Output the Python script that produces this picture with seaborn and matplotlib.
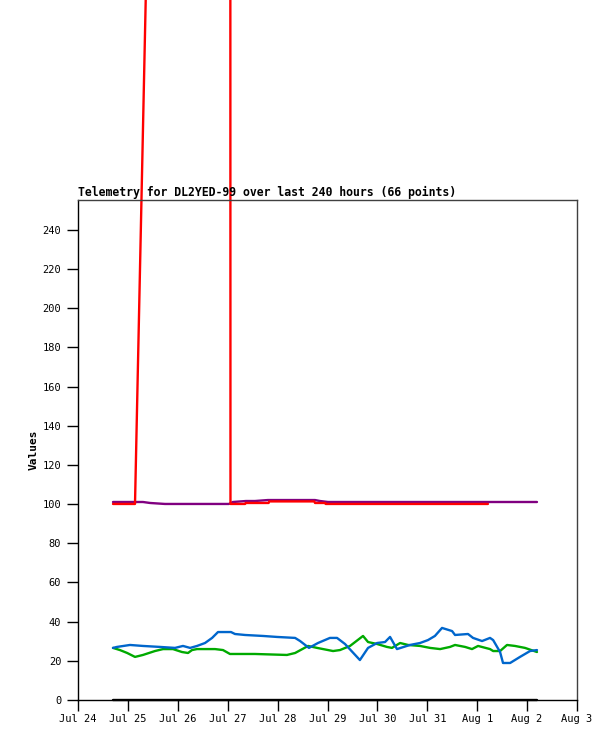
import pandas as pd
import numpy as np
import matplotlib.pyplot as plt
import matplotlib.dates as mdates
import seaborn as sns

# Telemetry values
black_times = ["2024-07-24 16:50", "2024-08-02 04:45"]
black_vals = [0, 0]

red_times = ["2024-07-24 16:50", "2024-07-25 03:25", "2024-07-27 00:50", "2024-07-27 01:20",
             "2024-07-27 08:20", "2024-07-27 08:40", "2024-07-27 19:40", "2024-07-27 20:00",
             "2024-07-28 17:40", "2024-07-28 18:00", "2024-07-28 22:50", "2024-07-28 23:10",
             "2024-08-01 05:10"]
red_vals = [100.1, 100.1, 2370, 100.1, 100.1, 100.6, 100.6, 101.4,
            101.4, 100.6, 100.6, 100.1, 100.1]

purple_times = ["2024-07-24 16:50", "2024-07-25 07:15", "2024-07-25 10:40", "2024-07-25 17:50",
                "2024-07-27 00:35", "2024-07-27 02:30", "2024-07-27 08:45", "2024-07-27 13:05",
                "2024-07-27 19:20", "2024-07-28 18:00", "2024-07-28 20:25", "2024-07-29 00:15",
                "2024-08-02 04:45"]
purple_vals = [101.1, 101.1, 100.6, 100.1, 100.1, 101.1, 101.6, 101.6,
               102.1, 102.1, 101.6, 101.1, 101.1]

blue_times = ["2024-07-24 16:50", "2024-07-24 18:45", "2024-07-25 01:00", "2024-07-25 07:15",
              "2024-07-25 15:25", "2024-07-25 22:40", "2024-07-26 02:30", "2024-07-26 05:55",
              "2024-07-26 09:15", "2024-07-26 13:05", "2024-07-26 16:30", "2024-07-26 19:20",
              "2024-07-27 01:35", "2024-07-27 03:30", "2024-07-27 08:20", "2024-07-27 17:00",
              "2024-07-27 23:40", "2024-07-28 08:25", "2024-07-28 10:50", "2024-07-28 15:05",
              "2024-07-28 19:25", "2024-07-29 01:10", "2024-07-29 04:35", "2024-07-29 08:25",
              "2024-07-29 15:35", "2024-07-29 19:30", "2024-07-29 23:50", "2024-07-30 03:40",
              "2024-07-30 06:05", "2024-07-30 09:25", "2024-07-30 15:40", "2024-07-30 20:30",
              "2024-07-31 00:20", "2024-07-31 03:40", "2024-07-31 07:05", "2024-07-31 11:55",
              "2024-07-31 13:20", "2024-07-31 19:35", "2024-07-31 22:00", "2024-08-01 02:20",
              "2024-08-01 06:10", "2024-08-01 07:40", "2024-08-01 11:00", "2024-08-01 12:25",
              "2024-08-01 15:50", "2024-08-01 20:35", "2024-08-02 01:25", "2024-08-02 04:45"]
blue_vals = [26.6, 27.1, 28.1, 27.6, 27.1, 26.6, 27.6, 26.6,
             27.6, 29.1, 31.7, 34.7, 34.7, 33.7, 33.2, 32.7,
             32.2, 31.7, 30.1, 26.6, 29.1, 31.7, 31.7, 28.6,
             20.4, 26.6, 29.1, 29.6, 32.2, 26.0, 28.1, 29.1,
             30.6, 32.7, 36.8, 35.2, 33.2, 33.7, 31.7, 30.1,
             31.7, 30.6, 24.5, 18.9, 18.9, 22.0, 25.0, 25.5]

green_times = ["2024-07-24 16:50", "2024-07-24 20:10", "2024-07-24 23:40", "2024-07-25 03:25",
               "2024-07-25 07:15", "2024-07-25 13:00", "2024-07-25 16:55", "2024-07-25 21:40",
               "2024-07-26 02:00", "2024-07-26 04:55", "2024-07-26 06:50", "2024-07-26 09:15",
               "2024-07-26 17:55", "2024-07-26 21:45", "2024-07-27 01:05", "2024-07-27 13:05",
               "2024-07-28 04:30", "2024-07-28 08:25", "2024-07-28 14:40", "2024-07-28 19:00",
               "2024-07-29 02:40", "2024-07-29 06:00", "2024-07-29 10:50", "2024-07-29 17:05",
               "2024-07-29 19:30", "2024-07-29 23:50", "2024-07-30 04:35", "2024-07-30 07:00",
               "2024-07-30 10:55", "2024-07-30 14:45", "2024-07-30 20:30", "2024-07-31 01:20",
               "2024-07-31 06:10", "2024-07-31 10:55", "2024-07-31 13:20", "2024-07-31 18:10",
               "2024-07-31 21:30", "2024-08-01 00:25", "2024-08-01 06:10", "2024-08-01 07:40",
               "2024-08-01 11:00", "2024-08-01 14:20", "2024-08-01 18:10", "2024-08-01 23:00",
               "2024-08-02 04:45"]
green_vals = [26.6, 25.5, 24.0, 22.0, 23.0, 25.0, 26.0, 26.0,
              24.5, 24.0, 25.5, 26.0, 26.0, 25.5, 23.5, 23.5,
              23.0, 24.0, 27.6, 26.6, 25.0, 25.5, 27.6, 32.7,
              29.6, 28.6, 27.1, 26.6, 29.1, 28.1, 27.6, 26.6,
              26.0, 27.1, 28.1, 27.1, 26.0, 27.6, 26.0, 25.0,
              25.0, 28.1, 27.6, 26.6, 24.5]

series = [
    ("black", black_times, black_vals),
    ("green", green_times, green_vals),
    ("blue", blue_times, blue_vals),
    ("purple", purple_times, purple_vals),
    ("red", red_times, red_vals),
]
colors = {"black": "#000000", "green": "#00aa00", "blue": "#0066cc",
          "purple": "#800080", "red": "#ff0000"}

frames = []
for name, t, v in series:
    frames.append(pd.DataFrame({"time": pd.to_datetime(t), "value": v, "series": name}))
df = pd.concat(frames, ignore_index=True)

sns.set_style("white")
plt.rcParams["font.family"] = ["DejaVu Sans Mono", "DejaVu Sans"]
plt.rcParams["text.color"] = "black"
plt.rcParams["axes.labelcolor"] = "black"
plt.rcParams["xtick.color"] = "black"
plt.rcParams["ytick.color"] = "black"

fig = plt.figure(figsize=(6.15, 7.41), dpi=100)
ax = fig.add_axes([78 / 615, 41 / 741, 499 / 615, 500 / 741])

sns.lineplot(data=df, x="time", y="value", hue="series", palette=colors,
             estimator=None, sort=False, linewidth=1.7, legend=False,
             clip_on=False, ax=ax)

ax.set_xlim(pd.Timestamp("2024-07-24"), pd.Timestamp("2024-08-03"))
ax.set_ylim(0, 255.3)
ax.set_yticks(np.arange(0, 241, 20))
ax.xaxis.set_major_locator(mdates.DayLocator())
ax.xaxis.set_major_formatter(mdates.DateFormatter("%b %-d"))

ax.tick_params(axis="both", direction="out", length=8, width=1, color="black",
               labelcolor="black", labelsize=7.5, left=True, bottom=True)
ax.tick_params(axis="x", pad=2)
ax.tick_params(axis="y", pad=4)
for side in ["left", "bottom"]:
    ax.spines[side].set_color("black")
    ax.spines[side].set_linewidth(1)
for side in ["top", "right"]:
    ax.spines[side].set_color("#404040")
    ax.spines[side].set_linewidth(1)

ax.set_xlabel("")
ax.set_ylabel("Values", fontsize=8, fontweight="bold", labelpad=3, color="black")
ax.set_title("Telemetry for DL2YED-99 over last 240 hours (66 points)",
             loc="left", fontsize=8.3, fontweight="bold", pad=3, color="black")

fig.savefig("out.png", dpi=100)
